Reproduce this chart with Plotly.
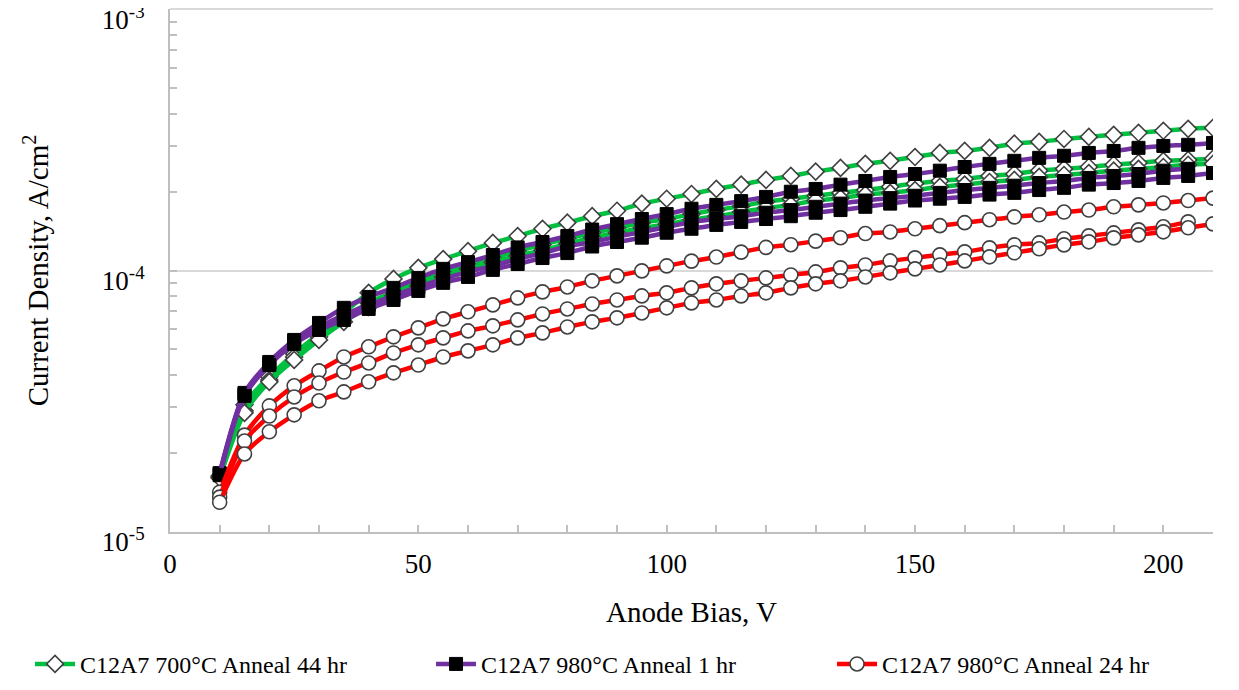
import plotly.graph_objects as go

# anode bias (V)
bias = [10, 15, 20, 25, 30, 35, 40, 45, 50, 55, 60, 65, 70, 75, 80, 85, 90, 95, 100, 105,
        110, 115, 120, 125, 130, 135, 140, 145, 150, 155, 160, 165, 170, 175, 180, 185, 190, 195,
        200, 205, 210]

# C12A7 700C anneal 44 hr (three sweeps)
g700_a = [1.64e-5, 3.07e-5, 3.93e-5, 4.81e-5, 5.74e-5, 6.90e-5, 8.24e-5, 9.32e-5, 1.027e-4, 1.11e-4,
          1.19e-4, 1.28e-4, 1.36e-4, 1.45e-4, 1.53e-4, 1.62e-4, 1.70e-4, 1.81e-4, 1.89e-4, 1.97e-4,
          2.06e-4, 2.14e-4, 2.23e-4, 2.31e-4, 2.40e-4, 2.48e-4, 2.57e-4, 2.64e-4, 2.73e-4, 2.83e-4,
          2.88e-4, 2.96e-4, 3.07e-4, 3.12e-4, 3.20e-4, 3.26e-4, 3.32e-4, 3.38e-4, 3.44e-4, 3.50e-4, 3.53e-4]
g700_b = [1.62e-5, 2.91e-5, 3.82e-5, 4.68e-5, 5.59e-5, 6.61e-5, 7.54e-5, 8.31e-5, 9.08e-5, 9.83e-5,
          1.054e-4, 1.12e-4, 1.19e-4, 1.26e-4, 1.33e-4, 1.40e-4, 1.46e-4, 1.53e-4, 1.58e-4, 1.65e-4,
          1.71e-4, 1.77e-4, 1.84e-4, 1.89e-4, 1.94e-4, 1.99e-4, 2.04e-4, 2.10e-4, 2.16e-4, 2.21e-4,
          2.25e-4, 2.31e-4, 2.35e-4, 2.42e-4, 2.46e-4, 2.50e-4, 2.55e-4, 2.59e-4, 2.64e-4, 2.66e-4, 2.69e-4]
g700_c = [1.61e-5, 2.86e-5, 3.76e-5, 4.56e-5, 5.44e-5, 6.38e-5, 7.28e-5, 8.02e-5, 8.76e-5, 9.48e-5,
          1.018e-4, 1.08e-4, 1.14e-4, 1.20e-4, 1.27e-4, 1.34e-4, 1.40e-4, 1.46e-4, 1.51e-4, 1.57e-4,
          1.62e-4, 1.68e-4, 1.74e-4, 1.79e-4, 1.86e-4, 1.90e-4, 1.96e-4, 1.99e-4, 2.04e-4, 2.10e-4,
          2.14e-4, 2.19e-4, 2.23e-4, 2.29e-4, 2.33e-4, 2.37e-4, 2.42e-4, 2.46e-4, 2.50e-4, 2.55e-4, 2.57e-4]

# C12A7 980C anneal 1 hr
p1_a = [1.68e-5, 3.41e-5, 4.48e-5, 5.44e-5, 6.32e-5, 7.22e-5, 7.95e-5, 8.61e-5, 9.40e-5, 1.018e-4,
        1.08e-4, 1.15e-4, 1.23e-4, 1.29e-4, 1.36e-4, 1.44e-4, 1.51e-4, 1.58e-4, 1.65e-4, 1.73e-4,
        1.79e-4, 1.85e-4, 1.92e-4, 2.01e-4, 2.06e-4, 2.14e-4, 2.21e-4, 2.29e-4, 2.35e-4, 2.42e-4,
        2.50e-4, 2.57e-4, 2.64e-4, 2.71e-4, 2.76e-4, 2.83e-4, 2.88e-4, 2.96e-4, 3.01e-4, 3.04e-4, 3.09e-4]
p1_b = [1.67e-5, 3.38e-5, 4.44e-5, 5.35e-5, 6.10e-5, 6.78e-5, 7.41e-5, 8.02e-5, 8.68e-5, 9.32e-5,
        9.91e-5, 1.045e-4, 1.11e-4, 1.17e-4, 1.24e-4, 1.29e-4, 1.35e-4, 1.41e-4, 1.47e-4, 1.54e-4,
        1.58e-4, 1.62e-4, 1.67e-4, 1.71e-4, 1.76e-4, 1.81e-4, 1.86e-4, 1.90e-4, 1.94e-4, 1.99e-4,
        2.04e-4, 2.08e-4, 2.12e-4, 2.17e-4, 2.21e-4, 2.27e-4, 2.31e-4, 2.35e-4, 2.42e-4, 2.46e-4]
p1_c = [1.65e-5, 3.32e-5, 4.36e-5, 5.25e-5, 5.94e-5, 6.49e-5, 7.15e-5, 7.74e-5, 8.38e-5, 9.00e-5,
        9.48e-5, 1.009e-4, 1.063e-4, 1.12e-4, 1.17e-4, 1.24e-4, 1.29e-4, 1.34e-4, 1.40e-4, 1.45e-4,
        1.50e-4, 1.54e-4, 1.58e-4, 1.62e-4, 1.67e-4, 1.71e-4, 1.76e-4, 1.81e-4, 1.86e-4, 1.89e-4,
        1.92e-4, 1.96e-4, 1.99e-4, 2.04e-4, 2.08e-4, 2.14e-4, 2.17e-4, 2.21e-4, 2.27e-4, 2.31e-4, 2.37e-4]

# C12A7 980C anneal 24 hr
r24_a = [1.42e-5, 2.35e-5, 3.04e-5, 3.63e-5, 4.14e-5, 4.68e-5, 5.12e-5, 5.59e-5, 6.05e-5, 6.55e-5,
         6.97e-5, 7.41e-5, 7.88e-5, 8.31e-5, 8.68e-5, 9.16e-5, 9.57e-5, 1.00e-4, 1.045e-4, 1.09e-4,
         1.13e-4, 1.18e-4, 1.23e-4, 1.26e-4, 1.30e-4, 1.34e-4, 1.39e-4, 1.41e-4, 1.45e-4, 1.49e-4,
         1.53e-4, 1.57e-4, 1.61e-4, 1.64e-4, 1.68e-4, 1.71e-4, 1.76e-4, 1.79e-4, 1.82e-4, 1.86e-4, 1.90e-4]
r24_b = [1.36e-5, 2.23e-5, 2.78e-5, 3.29e-5, 3.72e-5, 4.10e-5, 4.44e-5, 4.85e-5, 5.21e-5, 5.54e-5,
         5.89e-5, 6.16e-5, 6.49e-5, 6.84e-5, 7.15e-5, 7.47e-5, 7.74e-5, 8.02e-5, 8.24e-5, 8.61e-5,
         8.92e-5, 9.16e-5, 9.40e-5, 9.65e-5, 9.91e-5, 1.027e-4, 1.054e-4, 1.092e-4, 1.122e-4, 1.152e-4,
         1.183e-4, 1.225e-4, 1.258e-4, 1.28e-4, 1.327e-4, 1.362e-4, 1.398e-4, 1.436e-4, 1.475e-4, 1.541e-4]
r24_c = [1.30e-5, 1.99e-5, 2.42e-5, 2.81e-5, 3.18e-5, 3.44e-5, 3.76e-5, 4.07e-5, 4.36e-5, 4.68e-5,
         4.94e-5, 5.21e-5, 5.54e-5, 5.79e-5, 6.10e-5, 6.38e-5, 6.61e-5, 6.90e-5, 7.22e-5, 7.54e-5,
         7.74e-5, 8.02e-5, 8.24e-5, 8.61e-5, 8.92e-5, 9.16e-5, 9.48e-5, 9.83e-5, 1.018e-4, 1.054e-4,
         1.092e-4, 1.132e-4, 1.173e-4, 1.215e-4, 1.258e-4, 1.292e-4, 1.338e-4, 1.374e-4, 1.411e-4, 1.462e-4, 1.514e-4]

names = ["C12A7 700°C Anneal 44 hr", "C12A7 980°C Anneal 1 hr", "C12A7 980°C Anneal 24 hr"]

FONT = "Times New Roman, Liberation Serif, serif"
EDGE = "#404040"
AX = "#bfbfbf"
GRID = "#d9d9d9"

groups = [
    (names[0], "#00c040", dict(symbol="diamond", size=13, color="white", line=dict(color=EDGE, width=1.6)),
     [g700_a, g700_b, g700_c]),
    (names[1], "#7030a0", dict(symbol="square", size=13, color="black", line=dict(color="black", width=1)),
     [p1_a, p1_b, p1_c]),
    (names[2], "#ff0000", dict(symbol="circle", size=14, color="white", line=dict(color=EDGE, width=1.6)),
     [r24_a, r24_b, r24_c]),
]

fig = go.Figure()
for name, col, mk, sets in groups:
    for k, ys in enumerate(sets):
        fig.add_trace(go.Scatter(
            x=bias[:len(ys)], y=ys, mode="lines+markers", name=name,
            legendgroup=name, showlegend=(k == 0),
            line=dict(color=col, width=4.5, shape="spline", smoothing=0.8),
            marker=mk,
        ))

major = [1e-5, 1e-4, 1e-3]
major_txt = ["10<sup>-5</sup>", "10<sup>-4</sup>", "10<sup>-3</sup>"]
minor_vals = [m * d for d in (1e-5, 1e-4) for m in range(2, 10)]

# top gridline (1e-3) sits on the plot edge, draw it unclipped
fig.add_shape(type="line", xref="paper", x0=0, x1=1, yref="paper", y0=1, y1=1,
              line=dict(color=GRID, width=2), layer="below")

# page body adds an 8 px offset, so the figure is 8 px smaller on each axis
fig.update_layout(
    width=1231, height=682,
    margin=dict(l=162, r=26, t=1, b=158, autoexpand=False),
    paper_bgcolor="white", plot_bgcolor="white",
    font=dict(family=FONT, size=27, color="black"),
    legend=dict(orientation="h", x=-0.1342, xanchor="left", y=-0.21, yanchor="top",
                font=dict(size=24), itemwidth=40, tracegroupgap=0,
                entrywidth=346, entrywidthmode="pixels"),
    xaxis=dict(
        range=[0, 210], tickvals=[0, 50, 100, 150, 200],
        ticks="inside", ticklen=7, tickcolor=AX, tickwidth=1.5,
        minor=dict(dtick=10, tick0=0, ticks="inside", ticklen=7, tickcolor=AX, tickwidth=1.5, showgrid=False),
        showline=True, linecolor=AX, linewidth=2, showgrid=False, zeroline=False,
        tickfont=dict(size=27), ticklabelstandoff=7, automargin=False,
        title=dict(text="Anode Bias, V", font=dict(size=29), standoff=23),
    ),
    yaxis=dict(
        type="log", range=[-5, -2.997], tickvals=major, ticktext=major_txt,
        ticks="inside", ticklen=7, tickcolor=AX, tickwidth=1.5,
        minor=dict(tickvals=minor_vals, ticks="inside", ticklen=7, tickcolor=AX, tickwidth=1.5, showgrid=False),
        showline=True, linecolor=AX, linewidth=2,
        showgrid=True, gridcolor=GRID, gridwidth=1.5, zeroline=False,
        tickfont=dict(size=27), ticklabelstandoff=18, ticklabelshift=10,
        ticklabeloverflow="allow", automargin=False,
        title=dict(text="Current Density, A/cm<sup>2</sup>", font=dict(size=29), standoff=45),
    ),
)

fig.write_html("out.html")
